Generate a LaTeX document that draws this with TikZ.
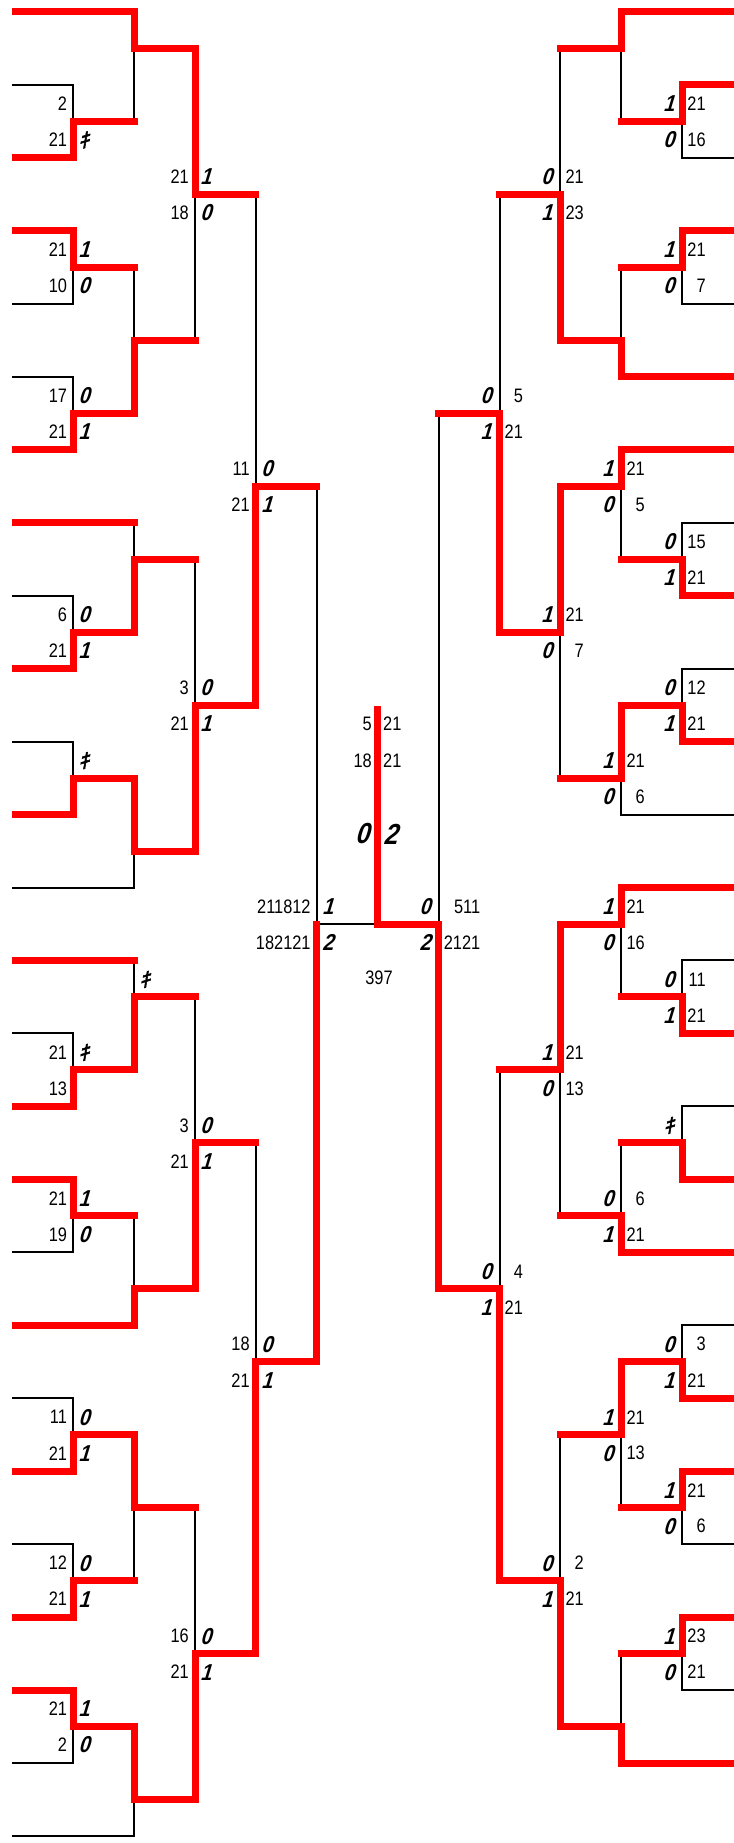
\documentclass[tikz,border=0pt]{standalone}
\usepackage{fontspec}
\newfontfamily\numfont{Liberation Sans}[FakeStretch=0.84]
\newfontfamily\itfont{Liberation Sans}[FakeStretch=0.86,FakeSlant=0.3]
\newfontfamily\kfont{Noto Sans CJK JP}[FakeSlant=0.25,FakeBold=2.5]
\pgfdeclarelayer{blk}
\pgfsetlayers{blk,main}
\definecolor{wred}{RGB}{255,0,0}
\tikzset{
  bk/.style={line width=2pt, black, line cap=rect},
  win/.style={line width=7pt, wred, line cap=rect},
  num/.style={inner sep=0pt, font=\numfont\fontsize{19.5}{21}\selectfont},
  itn/.style={inner sep=0pt, font=\itfont\bfseries\fontsize{23}{25}\selectfont},
  big/.style={inner sep=0pt, font=\itfont\bfseries\fontsize{29}{31}\selectfont},
}
% vertical grid: half-pitch units
\newcommand\Yv[1]{12+36.48*(#1)}
% columns
\def\cZ{12.3}\def\cA{73.2}\def\cB{134.1}\def\cC{195}\def\cD{255.9}\def\cE{316.8}
\def\cM{377.7}
\def\dE{438.6}\def\dD{499.5}\def\dC{560.4}\def\dB{621.3}\def\dA{682.2}\def\dZ{745}
\newcommand\kk{{\kfont\upshape\mdseries\fontsize{21}{23}\selectfont ｷ}}
\newcount\nc
\newcommand\lab[3]{\global\advance\nc by 1 \node[#1] (t\the\nc) at #2 {#3};}
% leaves
\newcommand\lbL[2]{\begin{pgfonlayer}{blk}\draw[bk] ({\cZ+1},{\Yv{#1}}) -- (#2,{\Yv{#1}});\end{pgfonlayer}}
\newcommand\lrL[2]{\draw[win] ({\cZ+3.5},{\Yv{#1}}) -- (#2,{\Yv{#1}});}
\newcommand\lbR[2]{\begin{pgfonlayer}{blk}\draw[bk] (#2,{\Yv{#1}}) -- (\dZ,{\Yv{#1}});\end{pgfonlayer}}
\newcommand\lrR[2]{\draw[win] (#2,{\Yv{#1}}) -- (\dZ,{\Yv{#1}});}
% match: col, next col, top, bottom, out, winner
\newcommand\mt[6]{\begin{pgfonlayer}{blk}\draw[bk] (#1,{\Yv{#3}}) -- (#1,{\Yv{#4}});\end{pgfonlayer}%
  \draw[win] (#1,{\Yv{#6}}) -- (#1,{\Yv{#5}}) -- (#2,{\Yv{#5}});}
% labels
\newcommand\labL[6]{%
  \lab{num,anchor=east}{({#1-6},{\Yv{#2}-17.5})}{#3}%
  \lab{itn,anchor=west}{({#1+5},{\Yv{#2}-17.5})}{#4}%
  \lab{num,anchor=east}{({#1-6},{\Yv{#2}+18.5})}{#5}%
  \lab{itn,anchor=west}{({#1+5},{\Yv{#2}+18.5})}{#6}}
\newcommand\labR[7]{%
  \lab{itn,anchor=east}{({#1-8},{\Yv{#2}-17.5})}{#3}%
  \lab{num,anchor=west}{({#1+5},{\Yv{#2}-17.5})}{\phantom{#7}\llap{#4}}%
  \lab{itn,anchor=east}{({#1-8},{\Yv{#2}+18.5})}{#5}%
  \lab{num,anchor=west}{({#1+5},{\Yv{#2}+18.5})}{\phantom{#7}\llap{#6}}}
\begin{document}
\begin{tikzpicture}[x=1pt,y=-1pt]
\useasboundingbox (0,0) rectangle (733,1843);
% ---------------- left leaves
\lrL{0}{\cB}\lbL{2}{\cA}\lrL{4}{\cA}\lrL{6}{\cA}\lbL{8}{\cA}\lbL{10}{\cA}
\lrL{12}{\cA}\lrL{14}{\cB}\lbL{16}{\cA}\lrL{18}{\cA}\lbL{20}{\cA}\lrL{22}{\cA}
\lbL{24}{\cB}\lrL{26}{\cB}\lbL{28}{\cA}\lrL{30}{\cA}\lrL{32}{\cA}\lbL{34}{\cA}
\lrL{36}{\cB}\lbL{38}{\cA}\lrL{40}{\cA}\lbL{42}{\cA}\lrL{44}{\cA}\lrL{46}{\cA}
\lbL{48}{\cA}\lbL{50}{\cB}
% ---------------- left matches
\mt{\cA}{\cB}{2}{4}{3}{4}
\mt{\cB}{\cC}{0}{3}{1}{0}
\mt{\cA}{\cB}{6}{8}{7}{6}
\mt{\cA}{\cB}{10}{12}{11}{12}
\mt{\cB}{\cC}{7}{11}{9}{11}
\mt{\cC}{\cD}{1}{9}{5}{1}
\mt{\cA}{\cB}{16}{18}{17}{18}
\mt{\cB}{\cC}{14}{17}{15}{17}
\mt{\cA}{\cB}{20}{22}{21}{22}
\mt{\cB}{\cC}{21}{24}{23}{21}
\mt{\cC}{\cD}{15}{23}{19}{23}
\mt{\cD}{\cE}{5}{19}{13}{19}
\mt{\cA}{\cB}{28}{30}{29}{30}
\mt{\cB}{\cC}{26}{29}{27}{29}
\mt{\cA}{\cB}{32}{34}{33}{32}
\mt{\cB}{\cC}{33}{36}{35}{36}
\mt{\cC}{\cD}{27}{35}{31}{35}
\mt{\cA}{\cB}{38}{40}{39}{40}
\mt{\cA}{\cB}{42}{44}{43}{44}
\mt{\cB}{\cC}{39}{43}{41}{39}
\mt{\cA}{\cB}{46}{48}{47}{46}
\mt{\cB}{\cC}{47}{50}{49}{47}
\mt{\cC}{\cD}{41}{49}{45}{49}
\mt{\cD}{\cE}{31}{45}{37}{45}
\mt{\cE}{\cE}{13}{37}{25}{37}
% ---------------- right leaves
\lrR{0}{\dB}\lrR{2}{\dA}\lbR{4}{\dA}\lrR{6}{\dA}\lbR{8}{\dA}\lrR{10}{\dB}
\lrR{12}{\dB}\lbR{14}{\dA}\lrR{16}{\dA}\lbR{18}{\dA}\lrR{20}{\dA}\lbR{22}{\dB}
\lrR{24}{\dB}\lbR{26}{\dA}\lrR{28}{\dA}\lbR{30}{\dA}\lrR{32}{\dA}\lrR{34}{\dB}
\lbR{36}{\dA}\lrR{38}{\dA}\lrR{40}{\dA}\lbR{42}{\dA}\lrR{44}{\dA}\lbR{46}{\dA}
\lrR{48}{\dB}
% ---------------- right matches
\mt{\dA}{\dB}{2}{4}{3}{2}
\mt{\dB}{\dC}{0}{3}{1}{0}
\mt{\dA}{\dB}{6}{8}{7}{6}
\mt{\dB}{\dC}{7}{10}{9}{10}
\mt{\dC}{\dD}{1}{9}{5}{9}
\mt{\dA}{\dB}{14}{16}{15}{16}
\mt{\dB}{\dC}{12}{15}{13}{12}
\mt{\dA}{\dB}{18}{20}{19}{20}
\mt{\dB}{\dC}{19}{22}{21}{19}
\mt{\dC}{\dD}{13}{21}{17}{13}
\mt{\dD}{\dE}{5}{17}{11}{17}
\mt{\dA}{\dB}{26}{28}{27}{28}
\mt{\dB}{\dC}{24}{27}{25}{24}
\mt{\dA}{\dB}{30}{32}{31}{32}
\mt{\dB}{\dC}{31}{34}{33}{34}
\mt{\dC}{\dD}{25}{33}{29}{25}
\mt{\dA}{\dB}{36}{38}{37}{38}
\mt{\dA}{\dB}{40}{42}{41}{40}
\mt{\dB}{\dC}{37}{41}{39}{37}
\mt{\dA}{\dB}{44}{46}{45}{44}
\mt{\dB}{\dC}{45}{48}{47}{48}
\mt{\dC}{\dD}{39}{47}{43}{47}
\mt{\dD}{\dE}{29}{43}{35}{43}
\mt{\dE}{\dE}{11}{35}{25}{35}
% ---------------- final
\coordinate (fl) at (\cE,{\Yv{25}});
\coordinate (fm) at (\cM,{\Yv{25}});
\coordinate (fr) at (\dE,{\Yv{25}});
\coordinate (ftop) at (\cM,709.5);
\begin{pgfonlayer}{blk}\draw[bk] (fl) -- (fm);\end{pgfonlayer}
\draw[win] (ftop) -- (fm) -- (fr);
% ---------------- left labels
\labL{\cA}{3}{2}{}{21}{\kk}
\labL{\cA}{7}{21}{1}{10}{0}
\labL{\cA}{11}{17}{0}{21}{1}
\labL{\cC}{5}{21}{1}{18}{0}
\labL{\cA}{17}{6}{0}{21}{1}
\labL{\cA}{21}{}{\kk}{}{}
\labL{\cC}{19}{3}{0}{21}{1}
\labL{\cD}{13}{11}{0}{21}{1}
\labL{\cB}{27}{}{\kk}{}{}
\labL{\cA}{29}{21}{\kk}{13}{}
\labL{\cA}{33}{21}{1}{19}{0}
\labL{\cC}{31}{3}{0}{21}{1}
\labL{\cA}{39}{11}{0}{21}{1}
\labL{\cA}{43}{12}{0}{21}{1}
\labL{\cA}{47}{21}{1}{2}{0}
\labL{\cC}{45}{16}{0}{21}{1}
\labL{\cD}{37}{18}{0}{21}{1}
\labL{\cE}{25}{211812}{1}{182121}{2}
% ---------------- right labels
\labR{\dA}{3}{1}{21}{0}{16}{21}
\labR{\dA}{7}{1}{21}{0}{7}{21}
\labR{\dC}{5}{0}{21}{1}{23}{21}
\labR{\dA}{15}{0}{15}{1}{21}{21}
\labR{\dB}{13}{1}{21}{0}{5}{21}
\labR{\dA}{19}{0}{12}{1}{21}{21}
\labR{\dB}{21}{1}{21}{0}{6}{21}
\labR{\dC}{17}{1}{21}{0}{7}{21}
\labR{\dD}{11}{0}{5}{1}{21}{21}
\labR{\dA}{27}{0}{11}{1}{21}{21}
\labR{\dB}{25}{1}{21}{0}{16}{21}
\labR{\dA}{31}{\kk}{}{}{}{21}
\labR{\dB}{33}{0}{6}{1}{21}{21}
\labR{\dC}{29}{1}{21}{0}{13}{21}
\labR{\dA}{37}{0}{3}{1}{21}{21}
\labR{\dA}{41}{1}{21}{0}{6}{21}
\labR{\dB}{39}{1}{21}{0}{13}{21}
\labR{\dA}{45}{1}{23}{0}{21}{21}
\labR{\dC}{43}{0}{2}{1}{21}{21}
\labR{\dD}{35}{0}{4}{1}{21}{21}
\labR{\dE}{25}{0}{511}{2}{2121}{2121}
% ---------------- centre labels
\lab{num,anchor=east}{(372,723.5)}{5}
\lab{num,anchor=west}{(383,723.5)}{21}
\lab{num,anchor=east}{(372,761)}{18}
\lab{num,anchor=west}{(383,761)}{21}
\lab{big,anchor=east}{(369,834)}{0}
\lab{big,anchor=west}{(383,834)}{2}
\lab{num}{(379,978)}{397}
\end{tikzpicture}
\end{document}
